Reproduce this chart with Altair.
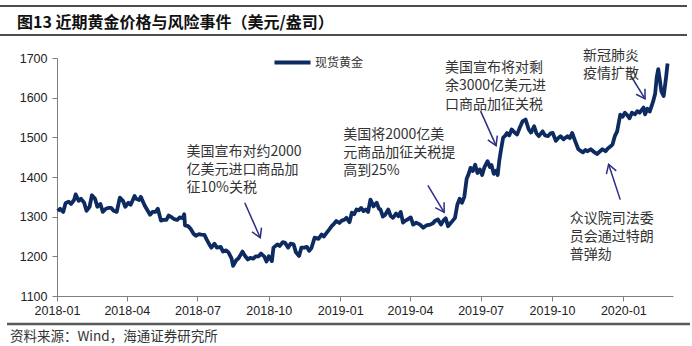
import altair as alt
import pandas as pd
import numpy as np

# ---------------- data ----------------
series_name = "现货黄金"
title_text = "图13 近期黄金价格与风险事件（美元/盎司）"
source_text = "资料来源：Wind，海通证券研究所"

dates_2018 = ["2018-01-02", "2018-01-05", "2018-01-09", "2018-01-12", "2018-01-16", "2018-01-19", "2018-01-23", "2018-01-25", "2018-01-29",
              "2018-02-01", "2018-02-05", "2018-02-08", "2018-02-12", "2018-02-15", "2018-02-19", "2018-02-22", "2018-02-26",
              "2018-03-01", "2018-03-05", "2018-03-08", "2018-03-12", "2018-03-15", "2018-03-19", "2018-03-23", "2018-03-27", "2018-03-30",
              "2018-04-03", "2018-04-06", "2018-04-11", "2018-04-13", "2018-04-17", "2018-04-19", "2018-04-24", "2018-04-27",
              "2018-05-01", "2018-05-04", "2018-05-08", "2018-05-11", "2018-05-15", "2018-05-18", "2018-05-22", "2018-05-25", "2018-05-29",
              "2018-06-01", "2018-06-05", "2018-06-08", "2018-06-12", "2018-06-14", "2018-06-15", "2018-06-19", "2018-06-22", "2018-06-26", "2018-06-29",
              "2018-07-03", "2018-07-06", "2018-07-10", "2018-07-13", "2018-07-17", "2018-07-19", "2018-07-23", "2018-07-26", "2018-07-31",
              "2018-08-03", "2018-08-07", "2018-08-10", "2018-08-14", "2018-08-16", "2018-08-20", "2018-08-23", "2018-08-28", "2018-08-31",
              "2018-09-04", "2018-09-07", "2018-09-11", "2018-09-14", "2018-09-18", "2018-09-21", "2018-09-25", "2018-09-28",
              "2018-10-01", "2018-10-05", "2018-10-07", "2018-10-12", "2018-10-15", "2018-10-19", "2018-10-22", "2018-10-26", "2018-10-29",
              "2018-11-02", "2018-11-05", "2018-11-09", "2018-11-12", "2018-11-16", "2018-11-19", "2018-11-22", "2018-11-25", "2018-11-29",
              "2018-12-04", "2018-12-08", "2018-12-11", "2018-12-14", "2018-12-18", "2018-12-21", "2018-12-24", "2018-12-27", "2018-12-31"]
prices_2018 = [1314, 1320, 1312, 1334, 1338, 1332, 1342, 1356, 1340,
               1345, 1335, 1315, 1325, 1354, 1345, 1325, 1332,
               1312, 1320, 1322, 1322, 1315, 1312, 1348, 1340, 1325,
               1335, 1330, 1352, 1345, 1342, 1350, 1328, 1318,
               1305, 1312, 1312, 1320, 1290, 1292, 1292, 1303, 1298,
               1294, 1292, 1298, 1296, 1306, 1278, 1276, 1270, 1257, 1252,
               1256, 1255, 1254, 1242, 1228, 1222, 1232, 1222, 1224,
               1212, 1215, 1210, 1195, 1176, 1190, 1195, 1212, 1202,
               1192, 1196, 1194, 1200, 1200, 1207, 1200, 1187,
               1200, 1188, 1222, 1230, 1226, 1236, 1234, 1222, 1232,
               1230, 1210, 1201, 1222, 1222, 1224, 1214, 1221, 1247,
               1244, 1255, 1250, 1258, 1268, 1276, 1282, 1289, 1284]

dates_2019 = ["2019-01-03", "2019-01-06", "2019-01-09", "2019-01-13", "2019-01-16", "2019-01-19", "2019-01-22", "2019-01-25", "2019-01-28", "2019-01-31",
              "2019-02-03", "2019-02-06", "2019-02-09", "2019-02-13", "2019-02-17", "2019-02-20", "2019-02-22", "2019-02-25", "2019-02-28",
              "2019-03-04", "2019-03-07", "2019-03-10", "2019-03-14", "2019-03-17", "2019-03-20", "2019-03-23", "2019-03-26", "2019-03-29",
              "2019-04-02", "2019-04-05", "2019-04-09", "2019-04-14", "2019-04-18", "2019-04-22", "2019-04-27",
              "2019-05-01", "2019-05-03", "2019-05-07", "2019-05-11", "2019-05-14", "2019-05-17", "2019-05-20", "2019-05-24", "2019-05-29",
              "2019-06-01", "2019-06-04", "2019-06-07", "2019-06-10", "2019-06-13", "2019-06-16", "2019-06-18", "2019-06-21", "2019-06-24", "2019-06-27", "2019-06-30",
              "2019-07-03", "2019-07-06", "2019-07-10", "2019-07-13", "2019-07-15", "2019-07-18", "2019-07-21", "2019-07-23", "2019-07-25", "2019-07-27", "2019-07-30",
              "2019-08-02", "2019-08-04", "2019-08-07", "2019-08-10", "2019-08-14", "2019-08-17", "2019-08-20", "2019-08-24", "2019-08-28",
              "2019-09-01", "2019-09-04", "2019-09-08", "2019-09-11", "2019-09-14", "2019-09-19", "2019-09-22", "2019-09-26", "2019-09-29",
              "2019-10-02", "2019-10-06", "2019-10-09", "2019-10-12", "2019-10-16", "2019-10-21", "2019-10-24", "2019-10-27", "2019-10-31",
              "2019-11-04", "2019-11-07", "2019-11-10", "2019-11-13", "2019-11-16", "2019-11-20", "2019-11-25", "2019-11-28",
              "2019-12-02", "2019-12-05", "2019-12-09", "2019-12-12", "2019-12-16", "2019-12-18", "2019-12-21", "2019-12-24", "2019-12-28", "2019-12-31"]
prices_2019 = [1290, 1292, 1297, 1286, 1310, 1306, 1318, 1316, 1322, 1314,
               1318, 1312, 1343, 1326, 1335, 1320, 1318, 1300, 1305,
               1318, 1302, 1297, 1308, 1301, 1312, 1285, 1290, 1293,
               1298, 1280, 1285, 1280, 1272, 1278, 1280,
               1284, 1289, 1293, 1280, 1290, 1296, 1276, 1285, 1297,
               1330, 1345, 1335, 1350, 1395, 1410, 1423, 1415, 1431, 1410, 1419,
               1405, 1425, 1440, 1425, 1430, 1408, 1416, 1405, 1440, 1465, 1499,
               1505, 1511, 1505, 1520, 1512, 1507, 1522, 1540, 1545,
               1520, 1512, 1528, 1510, 1503, 1515, 1505, 1503, 1510,
               1511, 1491, 1498, 1503, 1495, 1503, 1498, 1511, 1490,
               1470, 1466, 1462, 1468, 1465, 1470, 1462, 1458,
               1465, 1470, 1465, 1472, 1478, 1482, 1503, 1515, 1557, 1552]

dates_2020 = ["2020-01-03", "2020-01-06", "2020-01-09", "2020-01-12", "2020-01-16", "2020-01-19", "2020-01-22", "2020-01-25", "2020-01-27", "2020-01-29",
              "2020-02-01", "2020-02-04", "2020-02-08", "2020-02-11", "2020-02-13", "2020-02-15", "2020-02-17", "2020-02-19", "2020-02-22", "2020-02-25", "2020-02-27"]
prices_2020 = [1562, 1556, 1548, 1562, 1558, 1566, 1562, 1570, 1575, 1558,
               1572, 1565, 1588, 1610, 1651, 1672, 1645, 1616, 1604, 1650, 1686]

# annotation blocks (anchored at the first line of each block)
ann_dates = ["2018-06-17", "2019-01-05", "2019-05-16", "2019-11-10", "2019-10-24"]
ann_prices = [1464, 1507, 1675, 1706, 1295]
ann_lines = [["美国宣布对约2000", "亿美元进口商品加", "征10%关税"],
             ["美国将2000亿美", "元商品加征关税提", "高到25%"],
             ["美国宣布将对剩", "余3000亿美元进", "口商品加征关税"],
             ["新冠肺炎", "疫情扩散"],
             ["众议院司法委", "员会通过特朗", "普弹劾"]]

# arrows (start -> end, head at end)
arrow_start_dates = ["2018-08-31", "2019-04-24", "2019-07-01", "2020-01-11", "2019-12-28"]
arrow_start_prices = [1335, 1379, 1566, 1654, 1343]
arrow_end_dates = ["2018-09-20", "2019-05-15", "2019-07-21", "2020-01-29", "2019-12-13"]
arrow_end_prices = [1247, 1311, 1479, 1597, 1432]

x_tick_months = [(2018, 1), (2018, 4), (2018, 7), (2018, 10), (2019, 1), (2019, 4), (2019, 7), (2019, 10), (2020, 1)]
y_ticks = [1100, 1200, 1300, 1400, 1500, 1600, 1700]
x_start, x_end = "2018-01-01", "2020-03-05"
y_min, y_max = 1100, 1700

# ---------------- styling ----------------
W, H = 616, 238
LINE_COLOR = "#0d2b61"
ARROW_COLOR = "#2c2c85"
TEXT_COLOR = "#333333"
CJK = "Noto Sans CJK SC"
LATIN = "Liberation Sans"

assert len(dates_2018) == len(prices_2018)
assert len(dates_2019) == len(prices_2019)
assert len(dates_2020) == len(prices_2020)

gold = pd.DataFrame({
    "date": dates_2018 + dates_2019 + dates_2020,
    "price": prices_2018 + prices_2019 + prices_2020,
})
gold["s"] = series_name

ann = pd.DataFrame({"date": ann_dates, "price": ann_prices,
                    "text": ["\n".join(l) for l in ann_lines]})

arrows = pd.DataFrame({
    "sd": arrow_start_dates, "sp": arrow_start_prices,
    "ed": arrow_end_dates, "ep": arrow_end_prices,
})
# direction of each arrow head in screen space, derived from the scales
days_total = (pd.Timestamp(x_end) - pd.Timestamp(x_start)).days
ppx = W / days_total
ppy = H / (y_max - y_min)
ddx = (pd.to_datetime(arrows["ed"]) - pd.to_datetime(arrows["sd"])).dt.days * ppx
ddy = -(arrows["ep"] - arrows["sp"]) * ppy
arrows["angle"] = (np.degrees(np.arctan2(ddy, ddx)) + 360) % 360

xscale = alt.Scale(type="utc",
                   domain=[alt.DateTime(year=2018, month=1, date=1, utc=True),
                           alt.DateTime(year=2020, month=3, date=5, utc=True)])
yscale = alt.Scale(domain=[y_min, y_max], nice=False, zero=False)

x_axis = alt.Axis(values=[alt.DateTime(year=y, month=m, date=1, utc=True) for y, m in x_tick_months],
                  format="%Y-%m", title=None, grid=False, tickSize=5, labelPadding=3,
                  labelFont=LATIN, labelFontSize=12.5, labelColor="#222", domainColor="#808080",
                  tickColor="#808080", labelFlush=False, labelOverlap=False)
y_axis = alt.Axis(values=y_ticks, format="d", title=None, grid=False, tickSize=5, labelPadding=5,
                  labelFont=LATIN, labelFontSize=12.5, labelColor="#222", domainColor="#808080",
                  tickColor="#808080", labelOverlap=False, tickCount=len(y_ticks))


def X(field):
    return alt.X(field, scale=xscale, axis=x_axis)


def Y(field):
    return alt.Y(field, scale=yscale, axis=y_axis)


line = alt.Chart(gold).mark_line(strokeWidth=3.8, strokeJoin="round").encode(
    x=X("date:T"),
    y=Y("price:Q"),
    color=alt.Color("s:N", scale=alt.Scale(domain=[series_name], range=[LINE_COLOR]),
                    legend=alt.Legend(orient="none", legendX=215, legendY=-16, title=None,
                                      symbolType="stroke", symbolStrokeWidth=4, symbolSize=1300,
                                      labelFont=CJK, labelFontSize=12, labelColor=TEXT_COLOR,
                                      padding=0, labelOffset=2)),
)

texts = alt.Chart(ann).mark_text(align="left", baseline="middle", font=CJK, fontSize=14,
                                 lineBreak="\n", lineHeight=18.3, color=TEXT_COLOR).encode(
    x=X("date:T"), y=Y("price:Q"), text="text:N")

shafts = alt.Chart(arrows).mark_rule(color=ARROW_COLOR, strokeWidth=1.5).encode(
    x=X("sd:T"), y=Y("sp:Q"), x2="ed:T", y2="ep:Q")

heads = alt.Chart(arrows).mark_point(shape="M -1 -0.6 L 0 0 L -1 0.6", filled=False, size=300,
                                     color=ARROW_COLOR, strokeWidth=1.5, opacity=1).encode(
    x=X("ed:T"), y=Y("ep:Q"),
    angle=alt.Angle("angle:Q", scale=None))

one = pd.DataFrame({"t": [title_text], "src": [source_text]})
title = alt.Chart(one).mark_text(align="left", baseline="middle", font=CJK, fontSize=16,
                                 fontWeight="bold", color="#111").encode(
    x=alt.value(-40), y=alt.value(-35), text="t:N")
source = alt.Chart(one).mark_text(align="left", baseline="middle", font=CJK, fontSize=13.5,
                                  color=TEXT_COLOR).encode(
    x=alt.value(-47), y=alt.value(279), text="src:N")
rule_top = alt.Chart(one).mark_rule(color="#4d4d4d", strokeWidth=2).encode(
    x=alt.value(-57), x2=alt.value(630), y=alt.value(-52))
rule_mid = alt.Chart(one).mark_rule(color="#4d4d4d", strokeWidth=2).encode(
    x=alt.value(-57), x2=alt.value(630), y=alt.value(-23))
rule_bot = alt.Chart(one).mark_rule(color="#5a5a5a", strokeWidth=2.5).encode(
    x=alt.value(-50), x2=alt.value(633), y=alt.value(266))

chart = alt.layer(line, shafts, heads, texts, title, source, rule_top, rule_mid, rule_bot).properties(
    width=W, height=H,
    padding={"left": 57, "top": 58, "right": 19, "bottom": 50},
    autosize=alt.AutoSizeParams(type="none"),
    background="white",
).configure_view(strokeWidth=0)

chart.save("out.html", embed_options={"renderer": "svg", "actions": False})
